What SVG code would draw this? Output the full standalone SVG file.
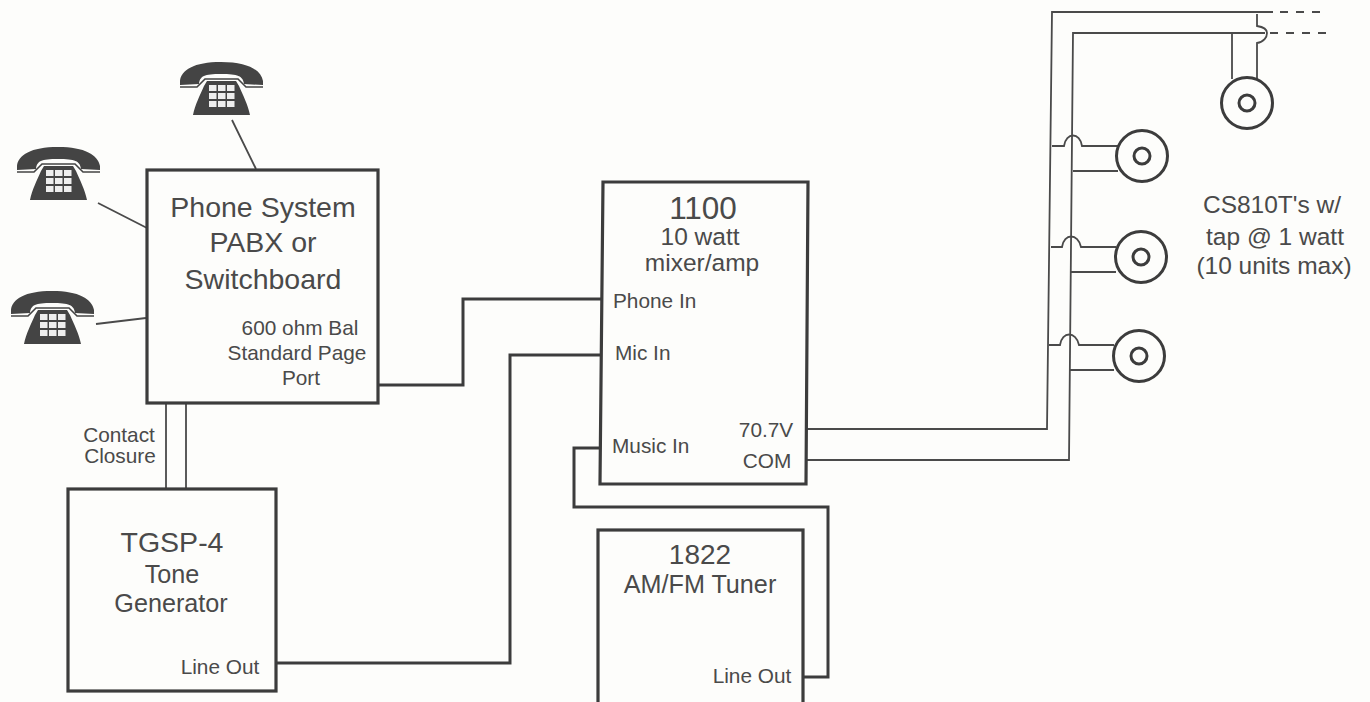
<svg xmlns="http://www.w3.org/2000/svg" width="1370" height="702" viewBox="0 0 1370 702">
<style>
text{font-family:"Liberation Sans",Arial,sans-serif;fill:#4a4a4a;text-anchor:middle}
.box{fill:none;stroke:#3c3c3c;stroke-width:3.2}
.w{fill:none;stroke:#3c3c3c;stroke-width:3}
.t{fill:none;stroke:#4a4a4a;stroke-width:1.8}
.l{font-size:28.5px}.m{font-size:25.2px}.n{font-size:20.8px}.c{font-size:24.5px}.h{font-size:31.5px}
.a{text-anchor:start}
</style>
<defs>
<g id="phone">
<path d="M0 19C1 8 14 0 41 0C68 0 81 8 83 19L83 23L64 22C63 14 58 12 41 12C24 12 20 14 19 22L0 23Z" fill="#444"/>
<path d="M0 25L17 25L25 17L58 17L66 25L83 25" fill="none" stroke="#444" stroke-width="1.6"/>
<path d="M27 19L56 19L59 24C63 33 68 43 70 53L13 53C15 43 20 33 24 24Z" fill="#444"/>
<g fill="#eee"><rect x="29" y="23" width="7.5" height="6"/><rect x="38" y="23" width="7.5" height="6"/><rect x="47" y="23" width="7.5" height="6"/><rect x="29" y="31" width="7.5" height="6"/><rect x="38" y="31" width="7.5" height="6"/><rect x="47" y="31" width="7.5" height="6"/><rect x="29" y="39" width="7.5" height="6"/><rect x="38" y="39" width="7.5" height="6"/><rect x="47" y="39" width="7.5" height="6"/></g>
</g>
<g id="spk"><circle r="25.5" fill="#fdfdfb" stroke="#3c3c3c" stroke-width="3"/><circle r="8" fill="none" stroke="#3c3c3c" stroke-width="3"/></g>
</defs>
<rect width="1370" height="702" fill="#fdfdfb"/>
<g id="connectors">
<path class="t" d="M232 120L256 169M98 203L147 228M96 324L146 318"/>
<path class="w" d="M378 385H463V299H602M276 663H510V355H602M601 448H574V507H828V677H804"/>
<path class="t" d="M166 403V489M186 403V489"/>
<path class="t" d="M807 429H1047L1052 12H1273M807 460H1069L1073 33H1265"/>
<path class="t" d="M1280 12H1326M1270 33H1326" stroke-dasharray="8 8"/>
<path class="t" d="M1257 14V26C1264 27 1267 30 1267 33C1267 37 1264 42 1257 43V79M1232 33V79"/>
<path class="t" d="M1052 146H1064C1066 132 1080 132 1082 146H1118M1073 171H1118"/>
<path class="t" d="M1051 247H1062C1064 233 1078 233 1081 247H1116M1071 272H1116"/>
<path class="t" d="M1049 345H1060C1062 331 1076 331 1079 345H1114M1070 370H1114"/>
</g>
<g id="phone1"><use href="#phone" x="180" y="62"/></g>
<g id="phone2"><use href="#phone" x="17" y="147"/></g>
<g id="phone3"><use href="#phone" x="11" y="291"/></g>
<g id="pabx"><rect class="box" x="147" y="170" width="231" height="233"/>
<text class="l" x="263" y="217">Phone System</text><text class="l" x="263" y="252">PABX or</text><text class="l" x="263" y="289">Switchboard</text>
<text class="n" x="300" y="335">600 ohm Bal</text><text class="n" x="297" y="360">Standard Page</text><text class="n" x="301" y="385">Port</text></g>
<g id="closure"><text class="n" x="119" y="442">Contact</text><text class="n" x="120" y="463">Closure</text></g>
<g id="tgsp"><rect class="box" x="68" y="489" width="208" height="202"/>
<text class="l" x="172" y="552">TGSP-4</text><text class="m" x="172" y="583">Tone</text><text class="m" x="171" y="612">Generator</text><text class="n" x="220" y="674">Line Out</text></g>
<g id="mixer"><path class="box" d="M603 182H808L806 484H600Z"/>
<text class="h" x="703" y="219">1100</text><text class="c" x="700" y="245">10 watt</text><text class="c" x="702" y="271">mixer/amp</text>
<text class="n a" x="613" y="308">Phone In</text><text class="n a" x="615" y="360">Mic In</text><text class="n a" x="612" y="453">Music In</text><text class="n" x="766" y="437">70.7V</text><text class="n" x="767" y="468">COM</text></g>
<g id="tuner"><rect class="box" x="598" y="530" width="205" height="185"/>
<text x="700" y="564" style="font-size:28px">1822</text><text class="m" x="700" y="593">AM/FM Tuner</text><text class="n" x="752" y="683">Line Out</text></g>
<g id="speaker1"><use href="#spk" x="1247" y="103"/></g>
<g id="speaker2"><use href="#spk" x="1142" y="156"/></g>
<g id="speaker3"><use href="#spk" x="1141" y="257"/></g>
<g id="speaker4"><use href="#spk" x="1139" y="356"/></g>
<g id="caption"><text class="c" x="1272" y="213">CS810T's w/</text><text class="c" x="1275" y="245">tap @ 1 watt</text><text class="c" x="1274" y="274">(10 units max)</text></g>
</svg>
